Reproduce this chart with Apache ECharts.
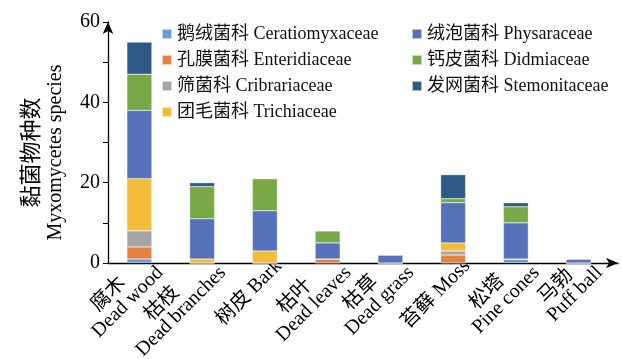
<!DOCTYPE html>
<html><head><meta charset="utf-8">
<script src="https://cdn.jsdelivr.net/npm/echarts@6/dist/echarts.min.js"></script>
<style>html,body{margin:0;padding:0;background:#fff}#c{width:622px;height:359px}</style>
</head><body><div id="c"></div>
<script>
var catZh = ['腐木', '枯枝', '树皮', '枯叶', '枯草', '苔藓', '松塔', '马勃'];
var catEn = ['Dead wood', 'Dead branches', 'Bark', 'Dead leaves', 'Dead grass', 'Moss', 'Pine cones', 'Puff ball'];
var singleLine = [false, false, true, false, false, true, false, false];
var seriesNames = ['鹅绒菌科 Ceratiomyxaceae', '孔膜菌科 Enteridiaceae', '筛菌科 Cribrariaceae', '团毛菌科 Trichiaceae', '绒泡菌科 Physaraceae', '钙皮菌科 Didmiaceae', '发网菌科 Stemonitaceae'];
var ceratiomyxaceae = [1, 0, 0, 0, 0, 0, 1, 0];
var enteridiaceae   = [3, 0, 0, 1, 0, 2, 0, 0];
var cribrariaceae   = [4, 0, 0, 0, 0, 1, 0, 0];
var trichiaceae     = [13, 1, 3, 0, 0, 2, 0, 0];
var physaraceae     = [17, 10, 10, 4, 2, 10, 9, 1];
var didmiaceae      = [9, 8, 8, 3, 0, 1, 4, 0];
var stemonitaceae   = [8, 1, 0, 0, 0, 6, 1, 0];
var yTicks = [0, 20, 40, 60];
var colors = ['#6B9BD6', '#E3823F', '#A5A5A5', '#F2BB3A', '#5471BA', '#7BA846', '#2E5A87'];
var values = [ceratiomyxaceae, enteridiaceae, cribrariaceae, trichiaceae, physaraceae, didmiaceae, stemonitaceae];

var FONT = '"Times New Roman","Liberation Serif","Noto Sans CJK SC",serif';
var labels = catZh.map(function (z, i) {
  return singleLine[i] ? '{s|' + z + ' ' + catEn[i] + '}' : '{zh|' + z + '}\n{en|' + catEn[i] + '}';
});

var chart = echarts.init(document.getElementById('c'), null, {renderer: 'canvas'});
var series = values.map(function (v, i) {
  return {
    name: seriesNames[i], type: 'bar', stack: 'all', data: v, barWidth: 25,
    xAxisIndex: 0, yAxisIndex: 0,
    itemStyle: {color: colors[i], borderColor: 'rgba(255,255,255,0.6)', borderWidth: 0.5},
    emphasis: {disabled: true}
  };
});
var legendText = {fontFamily: FONT, fontSize: 18, color: '#111', lineHeight: 18};
chart.setOption({
  animation: false,
  color: colors,
  grid: [
    {left: 108, right: 12, top: 22, bottom: 96, outerBoundsMode: 'none'},
    {left: 108, right: 4, top: 22, bottom: 96, outerBoundsMode: 'none'},
    {left: 122, right: -2, top: 22, bottom: 96, outerBoundsMode: 'none'}
  ],
  legend: [
    {data: seriesNames.slice(0, 4), orient: 'vertical', left: 156, top: 20, itemWidth: 10, itemHeight: 10, itemGap: 8, icon: 'rect',
     textStyle: legendText, selectedMode: false},
    {data: seriesNames.slice(4), orient: 'vertical', left: 406, top: 20, itemWidth: 10, itemHeight: 10, itemGap: 8, icon: 'rect',
     textStyle: legendText, selectedMode: false}
  ],
  xAxis: [
    {type: 'category', gridIndex: 0, data: catEn,
     axisLine: {show: false}, axisTick: {show: false}, axisLabel: {show: false}},
    {type: 'value', gridIndex: 1, min: 0, max: 1, show: true,
     axisLine: {show: true, lineStyle: {color: '#000', width: 1.3}, symbol: ['none', 'arrow'], symbolSize: [8, 12]},
     axisTick: {show: false}, axisLabel: {show: false}, splitLine: {show: false}},
    {type: 'category', gridIndex: 2, data: labels,
     axisLine: {show: false}, axisTick: {show: false},
     axisLabel: {interval: 0, rotate: 45, margin: 0, color: '#000', fontFamily: FONT, fontSize: 20,
       rich: {
         zh: {fontFamily: FONT, fontSize: 20, lineHeight: 19, align: 'center', padding: [0, 16, 0, 0], color: '#000'},
         en: {fontFamily: FONT, fontSize: 20, lineHeight: 19, align: 'center', color: '#000'},
         s: {fontFamily: FONT, fontSize: 20, lineHeight: 19, color: '#000'}
       }}}
  ],
  yAxis: [
    {type: 'value', gridIndex: 0, min: 0, max: 60, interval: 10,
     name: '{zh|黏菌物种数}\n{en|Myxomycetes species}', nameLocation: 'middle', nameGap: 40, nameRotate: 90,
     nameTextStyle: {fontFamily: FONT, fontSize: 20, color: '#000', padding: [0, 20, 0, 0],
       rich: {zh: {fontFamily: FONT, fontSize: 22, lineHeight: 24, color: '#000'},
              en: {fontFamily: FONT, fontSize: 20, lineHeight: 24, color: '#000'}}},
     axisLine: {show: true, lineStyle: {color: '#000', width: 1.3}, symbol: ['none', 'arrow'], symbolSize: [8, 12]},
     axisTick: {show: true, length: 5, lineStyle: {color: '#000'}},
     axisLabel: {color: '#000', fontFamily: FONT, fontSize: 20, margin: 8,
       formatter: function (v) { return yTicks.indexOf(v) >= 0 ? String(v) : ''; }},
     splitLine: {show: false}},
    {type: 'value', gridIndex: 1, show: false, min: 0, max: 1},
    {type: 'value', gridIndex: 2, show: false, min: 0, max: 1}
  ],
  series: series
});
</script></body></html>
